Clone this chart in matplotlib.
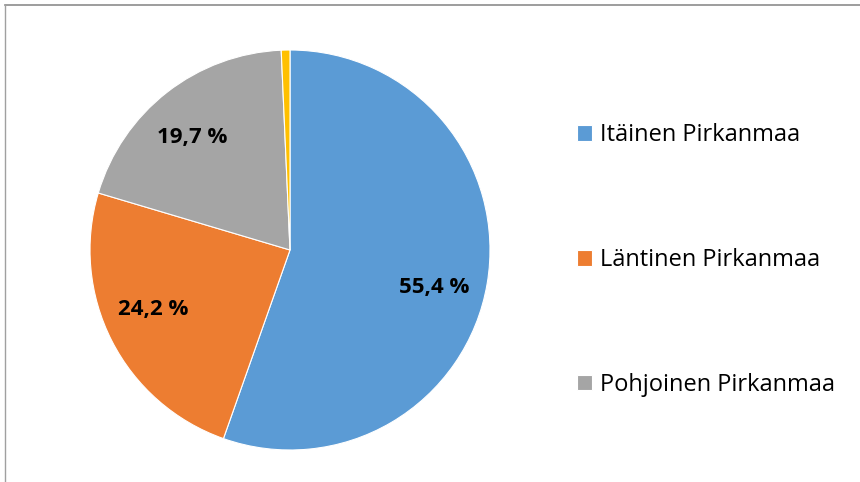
import matplotlib
matplotlib.use('Agg')
import matplotlib.pyplot as plt
from matplotlib.lines import Line2D
import numpy as np

plt.rcParams['font.family'] = ['Open Sans', 'DejaVu Sans']

labels = ['Itäinen Pirkanmaa', 'Läntinen Pirkanmaa', 'Pohjoinen Pirkanmaa', 'Muu']
values = [55.4, 24.2, 19.7, 0.7]
colors = ['#5B9BD5', '#ED7D31', '#A5A5A5', '#FFC000']

W, H = 860, 482
fig = plt.figure(figsize=(W / 100, H / 100), dpi=100)

# pie centre (290, 250) px, radius 200 px
ax = fig.add_axes([90 / W, (H - 450) / H, 400 / W, 400 / H])

def fmt(p):
    if p < 1:
        return ''
    return ('%.1f %%' % p).replace('.', ',')

wedges, texts, autotexts = ax.pie(values, colors=colors, startangle=90, counterclock=False,
                                  autopct=fmt, pctdistance=0.745,
                                  wedgeprops=dict(edgecolor='white', linewidth=0.8))
# Excel nudges the labels a little away from the slice middle
label_shift = [-4.7, -3.4, 3.1, 0]
for w, t, d in zip(wedges, autotexts, label_shift):
    th = np.deg2rad((w.theta1 + w.theta2) / 2 + d)
    t.set_position((0.745 * np.cos(th), 0.745 * np.sin(th)))
    t.set_fontsize(16)
    t.set_fontweight('bold')
    t.set_color('black')
ax.set_xlim(-1, 1)
ax.set_ylim(-1, 1)
ax.set_aspect('equal')

fig.legend(wedges[:3], labels[:3], loc='upper left', bbox_to_anchor=(556 / W, 1 - 102 / H),
           frameon=False, fontsize=17, labelspacing=4.27,
           handlelength=0.64, handleheight=0.64, handletextpad=0.34)

# chart frame (only top and left edges visible)
fig.add_artist(Line2D([5 / W, 1], [1 - 5 / H, 1 - 5 / H], color='#8c8c8c', linewidth=1.2))
fig.add_artist(Line2D([5 / W, 5 / W], [0, 1 - 5 / H], color='#a0a0a0', linewidth=1.0))

fig.savefig('out.png', dpi=100)
